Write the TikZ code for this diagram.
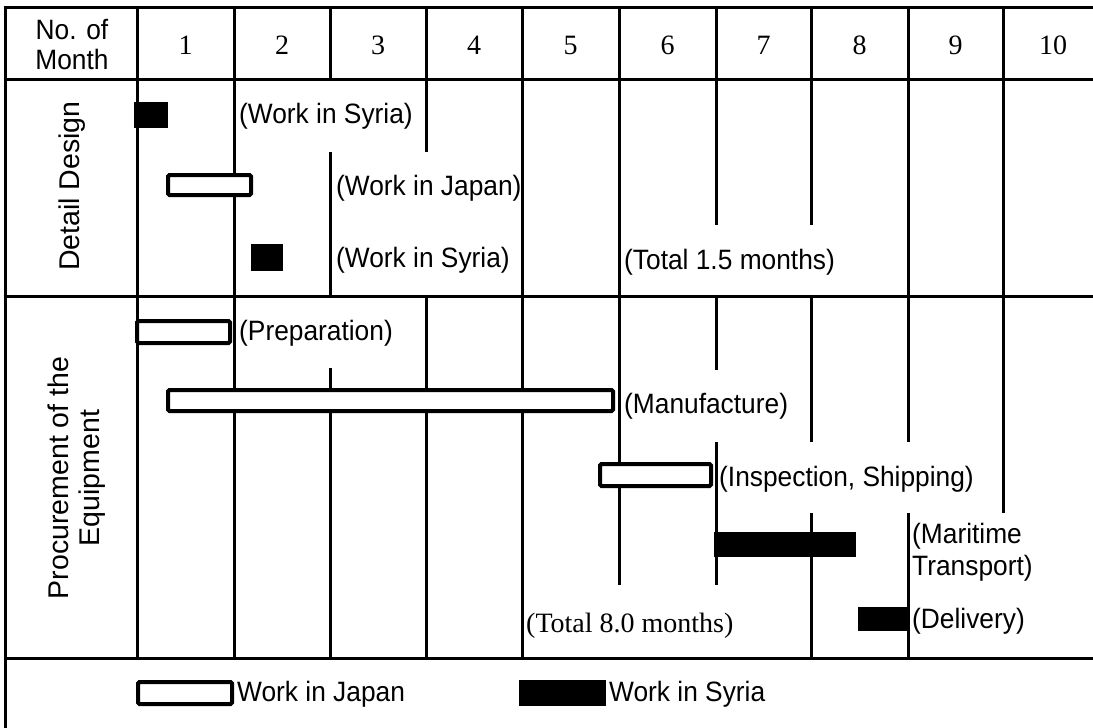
\documentclass[tikz,border=0pt]{standalone}
\usepackage{fontspec}
\setmainfont{Liberation Serif}
\newfontfamily\arialfont[FakeStretch=0.94]{Liberation Sans}
\newfontfamily\arialplain{Liberation Sans}

\begin{document}
\begin{tikzpicture}[x=1pt,y=-1pt,grid/.style={line width=3pt},japan/.style={draw,line width=4pt,fill=white,rounded corners=1.5pt},syria/.style={fill=black},lbl/.style={font=\arialfont\fontsize{28}{32}\selectfont,anchor=west,inner sep=0pt},side/.style={font=\arialplain\fontsize{28.5}{31}\selectfont,anchor=center,rotate=90,align=center,inner sep=0pt},num/.style={font=\fontsize{28}{31}\selectfont,inner sep=0pt}]
\useasboundingbox (0,0) rectangle (1093,728);
% frame and section lines
\draw[grid] (3.5,7)--(1100,7) (3.5,79)--(1100,79) (3.5,296)--(1100,296) (3.5,658)--(1100,658);
\draw[grid] (5,5.5)--(5,730);
% month columns, broken where the labels run across
\foreach \x in {137,234,522} \draw[grid] (\x,7)--(\x,658);
\draw[grid] (330,7)--(330,79) (330,152)--(330,296) (330,368)--(330,658);
\draw[grid] (426,7)--(426,152) (426,296)--(426,658);
\draw[grid] (619,7)--(619,585);
\draw[grid] (716,7)--(716,225) (716,296)--(716,370) (716,442)--(716,585);
\draw[grid] (811,7)--(811,225) (811,296)--(811,442) (811,513)--(811,658);
\draw[grid] (908,7)--(908,442) (908,513)--(908,658);
\draw[grid] (1003,7)--(1003,513);
% header
\node[lbl,anchor=center,align=center,font=\arialfont\fontsize{28}{30}\selectfont] (hd) at (72,45) {No. of\\Month};
\foreach \m/\x in {1/185.5,2/282,3/378,4/474,5/570.5,6/667.5,7/763.5,8/859.5,9/955.5,10/1053}
  \node[num] (m\m) at (\x,45) {\m};
% row titles
\node[side] (dd) at (72,186) {Detail Design};
\node[side] (pe) at (77,478) {Procurement of the\\Equipment};
% detail design bars
\fill[syria] (134,102) rectangle (168,128);
\draw[japan] (168,175) rectangle (251,195);
\fill[syria] (251,244) rectangle (283,271);
\node[lbl] (ds1) at (239,116) {(Work in Syria)};
\node[lbl] (dj) at (336,188) {(Work in Japan)};
\node[lbl] (ds2) at (336,260) {(Work in Syria)};
\node[lbl] (dtot) at (624,262) {(Total 1.5 months)};
% procurement bars
\draw[japan] (137,321) rectangle (230,343);
\draw[japan] (168,390) rectangle (613,411);
\draw[japan] (600,464) rectangle (711,486);
\fill[syria] (714,532) rectangle (856,557);
\fill[syria] (858,607) rectangle (907,631);
\node[lbl] (prep) at (239,333) {(Preparation)};
\node[lbl] (manu) at (624,406) {(Manufacture)};
\node[lbl] (insp) at (719,479) {(Inspection, Shipping)};
\node[lbl,align=left] (mari) at (912,552) {(Maritime\\Transport)};
\node[lbl] (deli) at (912,621) {(Delivery)};
\node[num,anchor=west] (ptot) at (526,626) {(Total 8.0 months)};
% legend
\draw[japan] (138,682) rectangle (232,704);
\fill[syria] (519,680) rectangle (606,706);
\node[lbl] (legj) at (237,694) {Work in Japan};
\node[lbl] (legs) at (609,694) {Work in Syria};
\end{tikzpicture}
\end{document}
